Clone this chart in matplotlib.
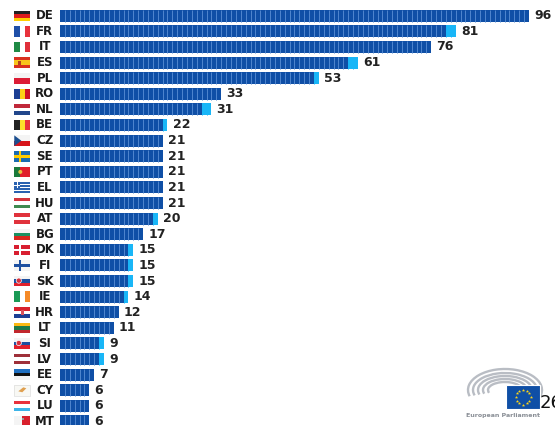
import numpy as np
import matplotlib
matplotlib.use("Agg")
import matplotlib.pyplot as plt
from matplotlib.patches import Rectangle, Polygon, Arc, Circle

codes = ["DE","FR","IT","ES","PL","RO","NL","BE","CZ","SE","PT","EL","HU","AT","BG","DK","FI","SK","IE","HR","LT","SI","LV","EE","CY","LU","MT"]
totals = [96,81,76,61,53,33,31,22,21,21,21,21,21,20,17,15,15,15,14,12,11,9,9,7,6,6,6]
extra = [0,2,0,2,1,0,2,1,0,0,0,0,0,1,0,1,1,1,1,0,0,1,1,0,0,0,0]
flag_stripes = {
 "DE":("h",["#222222","#dd1c1c","#ffce00"]), "FR":("v",["#1f4fa8","#ffffff","#e8323c"]),
 "IT":("v",["#1f8a45","#ffffff","#e0303a"]), "ES":("h",["#d9301f","#f8c51c","#f8c51c","#d9301f"]),
 "PL":("h",["#f4f4f4","#dc1c35"]), "RO":("v",["#1c3f94","#fcd116","#ce1126"]),
 "NL":("h",["#c0283a","#ffffff","#21468b"]), "BE":("v",["#222222","#fde02a","#e8323c"]),
 "CZ":("h",["#f4f4f4","#d7141a"]), "SE":("h",["#1a6cb0"]), "PT":("v",["#1a7a3a","#e0202c","#e0202c"]),
 "EL":("h",["#2a62b0","#ffffff","#2a62b0","#ffffff","#2a62b0","#ffffff","#2a62b0"]),
 "HU":("h",["#d2343c","#ffffff","#3f8a50"]), "AT":("h",["#e0323c","#ffffff","#e0323c"]),
 "BG":("h",["#f4f4f4","#1a9060","#d8261c"]), "DK":("h",["#d81e30"]), "FI":("h",["#f4f4f4"]),
 "SK":("h",["#f4f4f4","#1c4fa0","#e0202c"]), "IE":("v",["#1a9a55","#ffffff","#f58a28"]),
 "HR":("h",["#d8202c","#ffffff","#1c3f94"]), "LT":("h",["#fdb913","#1f7a4a","#c1272d"]),
 "SI":("h",["#f4f4f4","#1c4fa0","#e0202c"]), "LV":("h",["#9e3039","#ffffff","#9e3039"]),
 "EE":("h",["#1f6fc0","#111111","#f4f4f4"]), "CY":("h",["#f8f8f4"]),
 "LU":("h",["#e8323c","#ffffff","#3cb4e8"]), "MT":("v",["#f4f4f4","#d8202c"]),
}
dark = "#0f4fa6"
light = "#19b6f7"
sep = "#4f86cf"

plt.rcParams["font.family"] = ["DejaVu Sans"]
fig = plt.figure(figsize=(5.55, 4.25), dpi=100, facecolor="white")

# main axes: seats on x, country rows on y
ax = fig.add_axes([0, 0, 1, 1])
ax.set_xlim(-60 / 4.885, (555 - 60) / 4.885)
ax.set_ylim((425 - 15.8) / 15.6, -15.8 / 15.6)
ax.axis("off")
for i, (t, e) in enumerate(zip(totals, extra)):
    seats = np.arange(t)
    cols = [dark] * (t - e) + [light] * e
    ax.barh([i] * t, [1] * t, left=seats, height=0.76, color=cols, edgecolor="none")
    ax.vlines(seats[1:], i - 0.38, i + 0.38, color=[sep if s < t - e else light for s in seats[1:]], linewidth=0.7)
    ax.text(t + 1.05, i, str(t), va="center", ha="left", fontsize=9, fontweight="bold", color="#222222")
    ax.text(-3.1, i, codes[i], va="center", ha="center", fontsize=8.5, fontweight="bold", color="#1a1a1a")

# overlay in pixel coordinates for flags and logo
ov = fig.add_axes([0, 0, 1, 1])
ov.set_xlim(0, 555)
ov.set_ylim(425, 0)
ov.axis("off")
ov.patch.set_alpha(0)

fx, fw, fh = 14.3, 15.8, 10.6
for i, code in enumerate(codes):
    cy = 15.9 + 15.6 * i
    y0 = cy - fh / 2
    kind, cols = flag_stripes[code]
    n = len(cols)
    for k, c in enumerate(cols):
        if kind == "h":
            ov.add_patch(Rectangle((fx, y0 + k * fh / n), fw, fh / n, fc=c, ec="none"))
        else:
            ov.add_patch(Rectangle((fx + k * fw / n, y0), fw / n, fh, fc=c, ec="none"))
    if code == "CZ":
        ov.add_patch(Polygon([(fx, y0), (fx + 7, cy), (fx, y0 + fh)], fc="#1c4f8f", ec="none"))
    if code in ("SE", "DK", "FI"):
        c = {"SE": "#fecc00", "DK": "#ffffff", "FI": "#1c4fa0"}[code]
        ov.add_patch(Rectangle((fx, cy - 1.3), fw, 2.6, fc=c, ec="none"))
        ov.add_patch(Rectangle((fx + 4.3, y0), 2.8, fh, fc=c, ec="none"))
    if code == "EL":
        ov.add_patch(Rectangle((fx, y0), 6, 6, fc="#2a62b0", ec="none"))
        ov.add_patch(Rectangle((fx, y0 + 2.3), 6, 1.3, fc="white", ec="none"))
        ov.add_patch(Rectangle((fx + 2.4, y0), 1.3, 6, fc="white", ec="none"))
    if code == "ES":
        ov.add_patch(Rectangle((fx + 4, cy - 2), 3, 4, fc="#b5401f", ec="none"))
    if code == "PT":
        ov.add_patch(Circle((fx + 6, cy), 2, fc="#e8c040", ec="none"))
    if code in ("SK", "SI"):
        ov.add_patch(Circle((fx + 4.5, cy - 0.5), 2.6, fc="#d8303c", ec="white", lw=0.5))
    if code == "HR":
        ov.add_patch(Rectangle((fx + 6.3, cy - 2.5), 3.2, 5, fc="#d8505c", ec="none"))
    if code == "CY":
        ov.add_patch(Polygon([(fx + 4, cy + 1), (fx + 9, cy - 3), (fx + 12, cy - 2), (fx + 8, cy + 2)], fc="#e0a050", ec="none"))
        ov.add_patch(Rectangle((fx, y0), fw, fh, fc="none", ec="#dddddd", lw=0.5))
    if code == "MT":
        ov.add_patch(Rectangle((fx + 7.5, y0 + 1.5), 2, 2, fc="#999999", ec="none"))

# European Parliament logo
for w, h in [(34, 16), (44, 22), (54, 28), (64, 34), (74, 42)]:
    ov.add_patch(Arc((505, 390), w, h, theta1=170, theta2=395, color="#b9bdc4", lw=1.7))
ov.add_patch(Rectangle((506, 385), 34, 24, fc="#0f4fa6", ec="white", lw=0.8))
for a in np.deg2rad(np.arange(0, 360, 30)):
    ov.plot(523 + 7.5 * np.cos(a), 397 + 7.5 * np.sin(a), marker="*", ms=2.5, color="#ffd617", mew=0)
ov.text(503, 415.5, "European Parliament", fontsize=4.5, color="#8a8f96", ha="center", va="center", fontweight="bold")
ov.text(539.5, 403, "26", fontsize=13, color="#111111", ha="left", va="center")

fig.savefig("out.png", dpi=100)
